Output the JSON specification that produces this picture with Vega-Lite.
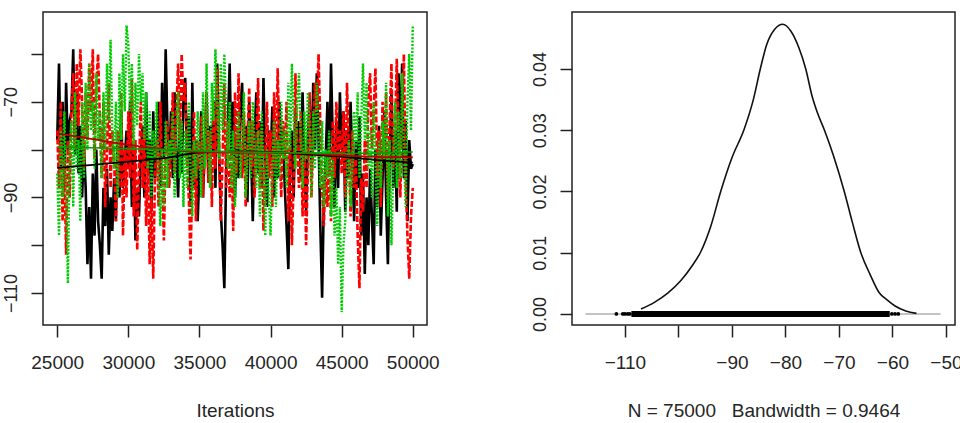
{
  "$schema": "https://vega.github.io/schema/vega-lite/v6.json",
  "autosize": {"type": "pad"},
  "padding": {"left": 1, "top": 11, "right": 0, "bottom": 0},
  "background": "white",
  "bounds": "flush",
  "spacing": 145,
  "config": {
    "view": {"stroke": "#222222", "strokeWidth": 1.5},
    "axis": {"grid": false, "domain": false, "ticks": true, "tickSize": 12, "tickWidth": 1.5, "tickColor": "#222222",
      "labelFont": "Liberation Sans", "labelFontSize": 18, "labelColor": "#262626",
      "titleFont": "Liberation Sans", "titleFontSize": 19, "titleFontWeight": "normal", "titleColor": "#262626",
      "labelOverlap": false, "labelFlush": false, "labelBound": false},
    "axisX": {"labelFontSize": 19}
  },
  "datasets": {
    "trace": [
      {"it":25000,"k":-78,"r":-76,"g":-85},{"it":25125,"k":-62,"r":-88,"g":-98},{"it":25250,"k":-84,"r":-70,"g":-76},{"it":25375,"k":-70,"r":-95,"g":-90},
      {"it":25500,"k":-88,"r":-82,"g":-72},{"it":25625,"k":-66,"r":-102,"g":-88},{"it":25750,"k":-80,"r":-78,"g":-108},{"it":25875,"k":-74,"r":-90,"g":-80},
      {"it":26000,"k":-72,"r":-72,"g":-74},{"it":26125,"k":-59,"r":-64,"g":-92},{"it":26250,"k":-81,"r":-80,"g":-68},{"it":26375,"k":-68,"r":-62,"g":-84},
      {"it":26500,"k":-85,"r":-75,"g":-78},{"it":26625,"k":-75,"r":-59,"g":-95},{"it":26750,"k":-90,"r":-70,"g":-70},{"it":26875,"k":-79,"r":-84,"g":-86},
      {"it":27000,"k":-88,"r":-68,"g":-66},{"it":27125,"k":-104,"r":-78,"g":-80},{"it":27250,"k":-92,"r":-62,"g":-62},{"it":27375,"k":-107,"r":-72,"g":-76},
      {"it":27500,"k":-85,"r":-59,"g":-70},{"it":27625,"k":-98,"r":-82,"g":-84},{"it":27750,"k":-80,"r":-66,"g":-64},{"it":27875,"k":-95,"r":-60,"g":-78},
      {"it":28000,"k":-100,"r":-74,"g":-72},{"it":28125,"k":-107,"r":-86,"g":-86},{"it":28250,"k":-88,"r":-70,"g":-68},{"it":28375,"k":-96,"r":-92,"g":-80},
      {"it":28500,"k":-84,"r":-80,"g":-62},{"it":28625,"k":-102,"r":-66,"g":-74},{"it":28750,"k":-90,"r":-88,"g":-57},{"it":28875,"k":-97,"r":-76,"g":-76},
      {"it":29000,"k":-86,"r":-82,"g":-84},{"it":29125,"k":-95,"r":-95,"g":-70},{"it":29250,"k":-78,"r":-76,"g":-90},{"it":29375,"k":-90,"r":-88,"g":-64},
      {"it":29500,"k":-72,"r":-68,"g":-78},{"it":29625,"k":-88,"r":-98,"g":-60},{"it":29750,"k":-82,"r":-80,"g":-72},{"it":29875,"k":-76,"r":-90,"g":-54},
      {"it":30000,"k":-84,"r":-72,"g":-58},{"it":30125,"k":-70,"r":-86,"g":-72},{"it":30250,"k":-92,"r":-65,"g":-62},{"it":30375,"k":-79,"r":-94,"g":-80},
      {"it":30500,"k":-99,"r":-78,"g":-66},{"it":30625,"k":-88,"r":-101,"g":-75},{"it":30750,"k":-94,"r":-84,"g":-60},{"it":30875,"k":-81,"r":-70,"g":-70},
      {"it":31000,"k":-75,"r":-88,"g":-64},{"it":31125,"k":-90,"r":-76,"g":-78},{"it":31250,"k":-68,"r":-96,"g":-68},{"it":31375,"k":-85,"r":-82,"g":-84},
      {"it":31500,"k":-78,"r":-104,"g":-72},{"it":31625,"k":-93,"r":-90,"g":-90},{"it":31750,"k":-72,"r":-107,"g":-76},{"it":31875,"k":-86,"r":-85,"g":-82},
      {"it":32000,"k":-80,"r":-78,"g":-70},{"it":32125,"k":-70,"r":-92,"g":-86},{"it":32250,"k":-88,"r":-70,"g":-96},{"it":32375,"k":-66,"r":-86,"g":-80},
      {"it":32500,"k":-82,"r":-99,"g":-92},{"it":32625,"k":-59,"r":-80,"g":-74},{"it":32750,"k":-75,"r":-74,"g":-88},{"it":32875,"k":-84,"r":-88,"g":-78},
      {"it":33000,"k":-72,"r":-80,"g":-82},{"it":33125,"k":-86,"r":-68,"g":-72},{"it":33250,"k":-68,"r":-85,"g":-90},{"it":33375,"k":-80,"r":-72,"g":-78},
      {"it":33500,"k":-90,"r":-62,"g":-68},{"it":33625,"k":-74,"r":-78,"g":-86},{"it":33750,"k":-85,"r":-60,"g":-74},{"it":33875,"k":-70,"r":-70,"g":-92},
      {"it":34000,"k":-65,"r":-66,"g":-76},{"it":34125,"k":-82,"r":-82,"g":-88},{"it":34250,"k":-73,"r":-90,"g":-70},{"it":34375,"k":-92,"r":-103,"g":-84},
      {"it":34500,"k":-66,"r":-86,"g":-94},{"it":34625,"k":-88,"r":-72,"g":-78},{"it":34750,"k":-78,"r":-95,"g":-86},{"it":34875,"k":-95,"r":-78,"g":-72},
      {"it":35000,"k":-84,"r":-84,"g":-80},{"it":35125,"k":-72,"r":-73,"g":-90},{"it":35250,"k":-90,"r":-90,"g":-68},{"it":35375,"k":-79,"r":-80,"g":-84},
      {"it":35500,"k":-68,"r":-68,"g":-62},{"it":35625,"k":-86,"r":-87,"g":-78},{"it":35750,"k":-75,"r":-76,"g":-88},{"it":35875,"k":-81,"r":-92,"g":-66},
      {"it":36000,"k":-70,"r":-70,"g":-74},{"it":36125,"k":-88,"r":-84,"g":-59},{"it":36250,"k":-62,"r":-63,"g":-70},{"it":36375,"k":-80,"r":-78,"g":-82},
      {"it":36500,"k":-93,"r":-95,"g":-62},{"it":36625,"k":-100,"r":-82,"g":-76},{"it":36750,"k":-109,"r":-66,"g":-60},{"it":36875,"k":-85,"r":-88,"g":-72},
      {"it":37000,"k":-75,"r":-74,"g":-84},{"it":37125,"k":-62,"r":-90,"g":-70},{"it":37250,"k":-82,"r":-80,"g":-88},{"it":37375,"k":-70,"r":-97,"g":-76},
      {"it":37500,"k":-90,"r":-68,"g":-92},{"it":37625,"k":-78,"r":-85,"g":-80},{"it":37750,"k":-86,"r":-64,"g":-72},{"it":37875,"k":-72,"r":-79,"g":-86},
      {"it":38000,"k":-66,"r":-86,"g":-78},{"it":38125,"k":-84,"r":-72,"g":-68},{"it":38250,"k":-75,"r":-92,"g":-90},{"it":38375,"k":-91,"r":-78,"g":-82},
      {"it":38500,"k":-70,"r":-67,"g":-74},{"it":38625,"k":-80,"r":-84,"g":-86},{"it":38750,"k":-95,"r":-74,"g":-70},{"it":38875,"k":-77,"r":-90,"g":-80},
      {"it":39000,"k":-68,"r":-80,"g":-88},{"it":39125,"k":-85,"r":-65,"g":-76},{"it":39250,"k":-74,"r":-88,"g":-94},{"it":39375,"k":-88,"r":-76,"g":-72},
      {"it":39500,"k":-65,"r":-97,"g":-84},{"it":39625,"k":-82,"r":-82,"g":-98},{"it":39750,"k":-92,"r":-70,"g":-80},{"it":39875,"k":-76,"r":-86,"g":-90},
      {"it":40000,"k":-83,"r":-76,"g":-98},{"it":40125,"k":-71,"r":-92,"g":-84},{"it":40250,"k":-90,"r":-68,"g":-74},{"it":40375,"k":-78,"r":-84,"g":-92},
      {"it":40500,"k":-86,"r":-63,"g":-78},{"it":40625,"k":-70,"r":-79,"g":-86},{"it":40750,"k":-80,"r":-90,"g":-70},{"it":40875,"k":-75,"r":-74,"g":-82},
      {"it":41000,"k":-88,"r":-82,"g":-76},{"it":41125,"k":-96,"r":-70,"g":-88},{"it":41250,"k":-105,"r":-95,"g":-66},{"it":41375,"k":-84,"r":-78,"g":-80},
      {"it":41500,"k":-76,"r":-100,"g":-62},{"it":41625,"k":-90,"r":-86,"g":-74},{"it":41750,"k":-72,"r":-64,"g":-84},{"it":41875,"k":-81,"r":-80,"g":-70},
      {"it":42000,"k":-74,"r":-88,"g":-64},{"it":42125,"k":-86,"r":-72,"g":-78},{"it":42250,"k":-68,"r":-94,"g":-88},{"it":42375,"k":-82,"r":-80,"g":-72},
      {"it":42500,"k":-93,"r":-100,"g":-82},{"it":42625,"k":-77,"r":-84,"g":-68},{"it":42750,"k":-70,"r":-68,"g":-76},{"it":42875,"k":-85,"r":-90,"g":-90},
      {"it":43000,"k":-66,"r":-78,"g":-72},{"it":43125,"k":-80,"r":-66,"g":-84},{"it":43250,"k":-64,"r":-72,"g":-66},{"it":43375,"k":-78,"r":-60,"g":-78},
      {"it":43500,"k":-96,"r":-75,"g":-88},{"it":43625,"k":-111,"r":-88,"g":-74},{"it":43750,"k":-90,"r":-96,"g":-92},{"it":43875,"k":-82,"r":-84,"g":-80},
      {"it":44000,"k":-70,"r":-92,"g":-86},{"it":44125,"k":-85,"r":-80,"g":-76},{"it":44250,"k":-62,"r":-95,"g":-94},{"it":44375,"k":-78,"r":-74,"g":-82},
      {"it":44500,"k":-92,"r":-86,"g":-98},{"it":44625,"k":-74,"r":-70,"g":-88},{"it":44750,"k":-88,"r":-82,"g":-104},{"it":44875,"k":-68,"r":-76,"g":-92},
      {"it":45000,"k":-80,"r":-85,"g":-114},{"it":45125,"k":-72,"r":-72,"g":-100},{"it":45250,"k":-93,"r":-90,"g":-95},{"it":45375,"k":-76,"r":-66,"g":-86},
      {"it":45500,"k":-86,"r":-80,"g":-78},{"it":45625,"k":-70,"r":-94,"g":-92},{"it":45750,"k":-82,"r":-76,"g":-84},{"it":45875,"k":-95,"r":-88,"g":-72},
      {"it":46000,"k":-78,"r":-82,"g":-80},{"it":46125,"k":-88,"r":-98,"g":-68},{"it":46250,"k":-73,"r":-109,"g":-86},{"it":46375,"k":-98,"r":-86,"g":-74},
      {"it":46500,"k":-85,"r":-93,"g":-62},{"it":46625,"k":-106,"r":-78,"g":-78},{"it":46750,"k":-90,"r":-88,"g":-66},{"it":46875,"k":-100,"r":-70,"g":-84},
      {"it":47000,"k":-84,"r":-64,"g":-76},{"it":47125,"k":-94,"r":-80,"g":-90},{"it":47250,"k":-104,"r":-72,"g":-70},{"it":47375,"k":-80,"r":-63,"g":-82},
      {"it":47500,"k":-92,"r":-86,"g":-96},{"it":47625,"k":-75,"r":-76,"g":-78},{"it":47750,"k":-98,"r":-92,"g":-88},{"it":47875,"k":-86,"r":-70,"g":-74},
      {"it":48000,"k":-72,"r":-82,"g":-82},{"it":48125,"k":-90,"r":-68,"g":-66},{"it":48250,"k":-104,"r":-90,"g":-94},{"it":48375,"k":-82,"r":-74,"g":-78},
      {"it":48500,"k":-68,"r":-62,"g":-100},{"it":48625,"k":-88,"r":-84,"g":-84},{"it":48750,"k":-76,"r":-76,"g":-70},{"it":48875,"k":-93,"r":-61,"g":-88},
      {"it":49000,"k":-64,"r":-78,"g":-72},{"it":49125,"k":-80,"r":-90,"g":-86},{"it":49250,"k":-62,"r":-72,"g":-64},{"it":49375,"k":-86,"r":-60,"g":-80},
      {"it":49500,"k":-74,"r":-86,"g":-92},{"it":49625,"k":-95,"r":-98,"g":-70},{"it":49750,"k":-78,"r":-107,"g":-60},{"it":49875,"k":-84,"r":-94,"g":-76},
      {"it":50000,"k":-83,"r":-88,"g":-54}
    ],
    "smooth": [
      {"it":25000,"k":-83.8,"r":-76.6,"g":-79.5},{"it":27500,"k":-83.2,"r":-77.8,"g":-79.6},{"it":30000,"k":-82.5,"r":-79.0,"g":-79.8},
      {"it":32500,"k":-81.8,"r":-79.9,"g":-80.0},{"it":35000,"k":-80.6,"r":-80.5,"g":-80.3},{"it":37500,"k":-80.4,"r":-80.6,"g":-80.5},
      {"it":40000,"k":-80.5,"r":-80.6,"g":-80.6},{"it":42500,"k":-81.0,"r":-80.8,"g":-80.7},{"it":45000,"k":-81.5,"r":-81.2,"g":-80.8},
      {"it":47500,"k":-82.2,"r":-81.5,"g":-80.7},{"it":50000,"k":-82.7,"r":-81.6,"g":-80.5}
    ],
    "dens": [
      {"x":-107,"d":0.0008},{"x":-104.5,"d":0.0019},{"x":-102,"d":0.0034},{"x":-99.5,"d":0.0055},{"x":-97.5,"d":0.0078},
      {"x":-95.8,"d":0.0102},{"x":-94,"d":0.0142},{"x":-92.1,"d":0.0200},{"x":-90,"d":0.0255},{"x":-87.7,"d":0.0302},
      {"x":-86,"d":0.0350},{"x":-84.7,"d":0.0400},{"x":-83.5,"d":0.0440},{"x":-82,"d":0.0465},{"x":-80.5,"d":0.0473},
      {"x":-79,"d":0.0462},{"x":-77.5,"d":0.0435},{"x":-76.2,"d":0.0400},{"x":-75,"d":0.0355},{"x":-74,"d":0.0328},
      {"x":-72.7,"d":0.0300},{"x":-71,"d":0.0258},{"x":-69,"d":0.0200},{"x":-67.5,"d":0.0150},{"x":-65.9,"d":0.0100},
      {"x":-64.2,"d":0.0065},{"x":-62.5,"d":0.0035},{"x":-61,"d":0.0023},{"x":-59.5,"d":0.0013},{"x":-57.5,"d":0.0005},
      {"x":-55.5,"d":0.0001}
    ],
    "zero": [{"lo":-117.4,"hi":-51,"y":0}],
    "band": [{"lo":-108.8,"hi":-60.5,"y":0}],
    "tails": [{"x":-111.6},{"x":-110.4},{"x":-110.0},{"x":-109.5},{"x":-109.1},{"x":-60.1},{"x":-59.5},{"x":-58.9}]
  },
  "hconcat": [
    {
      "width": 384, "height": 313,
      "layer": [
        {"data": {"name": "trace"}, "mark": {"type": "line", "color": "#000000", "strokeWidth": 2.6, "clip": true},
         "encoding": {
           "x": {"field": "it", "type": "quantitative", "scale": {"domain": [24000, 51000], "nice": false, "zero": false},
                 "axis": {"title": "Iterations", "values": [25000,30000,35000,40000,45000,50000], "format": "d",
                          "labelBaseline": "alphabetic", "labelPadding": 31, "titleBaseline": "alphabetic", "titleY": 91}},
           "y": {"field": "k", "type": "quantitative", "scale": {"domain": [-116.7, -51.2], "nice": false, "zero": false},
                 "axis": {"title": null, "values": [-110,-100,-90,-80,-70,-60], "labelExpr": "datum.value % 20 == 0 ? '' : datum.label",
                          "labelAngle": -90, "labelAlign": "center", "labelBaseline": "alphabetic", "labelPadding": 15}}
         }},
        {"data": {"name": "trace"}, "mark": {"type": "line", "color": "#FF0000", "strokeWidth": 2.6, "strokeDash": [6, 2], "clip": true},
         "encoding": {"x": {"field": "it", "type": "quantitative"}, "y": {"field": "r", "type": "quantitative"}}},
        {"data": {"name": "trace"}, "mark": {"type": "line", "color": "#00CD00", "strokeWidth": 2.4, "strokeDash": [2, 1.5], "clip": true},
         "encoding": {"x": {"field": "it", "type": "quantitative"}, "y": {"field": "g", "type": "quantitative"}}},
        {"data": {"name": "smooth"}, "mark": {"type": "line", "color": "#000000", "strokeWidth": 1.8, "interpolate": "monotone"},
         "encoding": {"x": {"field": "it", "type": "quantitative"}, "y": {"field": "k", "type": "quantitative"}}},
        {"data": {"name": "smooth"}, "mark": {"type": "line", "color": "#B80000", "strokeWidth": 1.8, "interpolate": "monotone"},
         "encoding": {"x": {"field": "it", "type": "quantitative"}, "y": {"field": "r", "type": "quantitative"}}},
        {"data": {"name": "smooth"}, "mark": {"type": "line", "color": "#00A000", "strokeWidth": 1.6, "interpolate": "monotone"},
         "encoding": {"x": {"field": "it", "type": "quantitative"}, "y": {"field": "g", "type": "quantitative"}}}
      ]
    },
    {
      "width": 383, "height": 313,
      "layer": [
        {"data": {"name": "zero"}, "mark": {"type": "rule", "color": "#C4C4C4", "strokeWidth": 2},
         "encoding": {
           "x": {"field": "lo", "type": "quantitative", "scale": {"domain": [-119.9, -48.3], "nice": false, "zero": false},
                 "axis": {"title": "N = 75000\u00a0\u00a0\u00a0Bandwidth = 0.9464", "values": [-110,-100,-90,-80,-70,-60,-50],
                          "labelExpr": "datum.value == -100 ? '' : datum.label",
                          "labelBaseline": "alphabetic", "labelPadding": 31, "titleBaseline": "alphabetic", "titleY": 91}},
           "x2": {"field": "hi"},
           "y": {"field": "y", "type": "quantitative", "scale": {"domain": [-0.0018, 0.0493], "nice": false, "zero": false},
                 "axis": {"title": null, "values": [0, 0.01, 0.02, 0.03, 0.04], "format": ".2f",
                          "labelAngle": -90, "labelAlign": "center", "labelBaseline": "alphabetic", "labelPadding": 15}}
         }},
        {"data": {"name": "dens"}, "mark": {"type": "line", "color": "#111111", "strokeWidth": 1.6, "interpolate": "monotone"},
         "encoding": {"x": {"field": "x", "type": "quantitative"}, "y": {"field": "d", "type": "quantitative"}}},
        {"data": {"name": "band"}, "mark": {"type": "rule", "color": "#000000", "strokeWidth": 6},
         "encoding": {"x": {"field": "lo", "type": "quantitative"}, "x2": {"field": "hi"}, "y": {"field": "y", "type": "quantitative"}}},
        {"data": {"name": "tails"}, "mark": {"type": "point", "filled": true, "color": "#000000", "size": 14, "opacity": 1},
         "encoding": {"x": {"field": "x", "type": "quantitative"}, "y": {"datum": 0, "type": "quantitative"}}}
      ]
    }
  ]
}
